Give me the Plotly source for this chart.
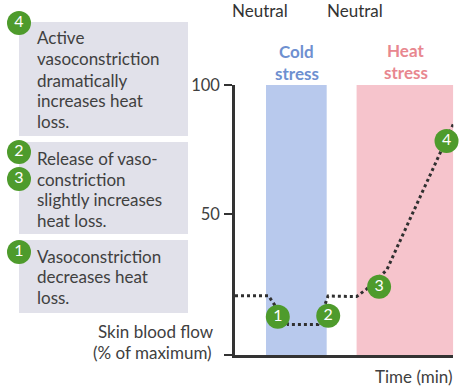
import plotly.graph_objects as go

# ---------------- data ----------------
time_pts = [0, 15.3, 24.3, 38.0, 42.6, 55.7, 60.3, 69.5, 100]
flow_pts = [18.3, 18.3, 7.2, 7.2, 18.2, 18.0, 20.9, 28.3, 84.8]

step_labels = ["1", "2", "3", "4"]
step_time = [19.6, 42.7, 66.0, 96.9]
step_flow = [10.2, 10.6, 21.8, 78.3]

cold_band = [14.2, 42.0]
heat_band = [55.7, 100]

y_ticks = [50, 100]
y_tick_text = ["50", "100"]

phase_labels = ["Neutral", "Neutral"]
cold_label = ["Cold", "stress"]
heat_label = ["Heat", "stress"]
y_title_lines = ["Skin blood flow", "(% of maximum)"]
x_title = "Time (min)"

box_texts = [
    ["Active", "vasoconstriction", "dramatically", "increases heat", "loss."],
    ["Release of vaso-", "constriction", "slightly increases", "heat loss."],
    ["Vasoconstriction", "decreases heat", "loss."],
]
box_badges = [["4"], ["2", "3"], ["1"]]

# ---------------- layout constants (pixels) ----------------
W, H = 461, 390
PL, PR, PT, PB = 235, 453.3, 85, 355
Y_TOP = 100
Y_BOT = -4.65

FONT = "Lato"
TXT = "#404040"
GREEN = "#4e9b2c"
FS = 17

fig = go.Figure()

# bands
fig.add_shape(type="rect", xref="x", yref="y", x0=cold_band[0], x1=cold_band[1],
              y0=Y_BOT, y1=Y_TOP, fillcolor="#b8c9ed", line_width=0, layer="below")
fig.add_shape(type="rect", xref="x", yref="y", x0=heat_band[0], x1=heat_band[1],
              y0=Y_BOT, y1=Y_TOP, fillcolor="#f6c4cc", line_width=0, layer="below")

# dotted curve
fig.add_trace(go.Scatter(x=time_pts, y=flow_pts, mode="lines",
                         line=dict(color="#303030", width=3, dash="3px,3px"),
                         hoverinfo="skip", showlegend=False, cliponaxis=False))
# numbered markers
fig.add_trace(go.Scatter(x=step_time, y=step_flow, mode="markers+text",
                         text=step_labels, textposition="middle center",
                         textfont=dict(color="white", size=16, family=FONT),
                         marker=dict(size=24, color=GREEN, line_width=0),
                         hoverinfo="skip", showlegend=False, cliponaxis=False))

# ------- overlay pixel axes for left panel -------
box_rects = [(19, 22, 188, 136), (19, 142, 188, 234), (19, 240, 188, 313)]
line_ys = [[37.3, 58.7, 80, 100.5, 121], [158.3, 179, 199.7, 220.7], [256, 276.7, 297.3]]
badge_ys = [[23], [152, 179], [252]]

for (x0, y0, x1, y1) in box_rects:
    fig.add_shape(type="rect", xref="x2", yref="y2", x0=x0, x1=x1, y0=y0, y1=y1,
                  fillcolor="#e1e1ea", line_width=0, layer="below")

bx, by, bt = [], [], []
for texts, ys in zip(box_texts, line_ys):
    for t, yy in zip(texts, ys):
        fig.add_annotation(x=35, y=yy, xref="x2", yref="y2", text=t, showarrow=False,
                           xanchor="left", yanchor="middle",
                           font=dict(family=FONT, size=FS, color=TXT))
for labs, ys in zip(box_badges, badge_ys):
    for l, yy in zip(labs, ys):
        bx.append(19)
        by.append(yy)
        bt.append(l)
fig.add_trace(go.Scatter(x=bx, y=by, xaxis="x2", yaxis="y2", mode="markers+text",
                         text=bt, textposition="middle center",
                         textfont=dict(color="white", size=16, family=FONT),
                         marker=dict(size=24, color=GREEN, line_width=0),
                         hoverinfo="skip", showlegend=False, cliponaxis=False))

# titles / labels
fig.add_annotation(x=216, y=331.7, xref="x2", yref="y2", text=y_title_lines[0],
                   showarrow=False, xanchor="right", yanchor="middle",
                   font=dict(family=FONT, size=FS, color=TXT))
fig.add_annotation(x=214, y=352.7, xref="x2", yref="y2", text=y_title_lines[1],
                   showarrow=False, xanchor="right", yanchor="middle",
                   font=dict(family=FONT, size=FS, color=TXT))
fig.add_annotation(x=455, y=376, xref="x2", yref="y2", text=x_title,
                   showarrow=False, xanchor="right", yanchor="middle",
                   font=dict(family=FONT, size=FS, color=TXT))
for xx, t in zip([260, 355], phase_labels):
    fig.add_annotation(x=xx, y=10, xref="x2", yref="y2", text=t, showarrow=False,
                       xanchor="center", yanchor="middle",
                       font=dict(family=FONT, size=FS, color="#333333"))
for xx, lines, col, ys in [(296.7, cold_label, "#6e90d0", [51.7, 73.3]),
                           (405.7, heat_label, "#e8878f", [50, 72])]:
    for t, yy in zip(lines, ys):
        fig.add_annotation(x=xx, y=yy, xref="x2", yref="y2", text="<b>" + t + "</b>",
                           showarrow=False, xanchor="center", yanchor="middle",
                           font=dict(family=FONT, size=FS, color=col))

fig.update_layout(
    width=W, height=H, autosize=False,
    margin=dict(l=0, r=0, t=0, b=0, pad=0),
    paper_bgcolor="white", plot_bgcolor="rgba(0,0,0,0)",
    xaxis=dict(domain=[PL / W, PR / W], range=[0, 100], showgrid=False, zeroline=False,
               showline=True, linecolor="#333333", linewidth=2.5, ticks="",
               showticklabels=False, anchor="y", fixedrange=True, automargin=False),
    yaxis=dict(domain=[(H - PB) / H, (H - PT) / H], range=[Y_BOT, Y_TOP], showgrid=False,
               zeroline=False, showline=True, linecolor="#333333", linewidth=2.5,
               ticks="outside", ticklen=8, tickwidth=2, tickcolor="#333333",
               tickvals=[Y_BOT] + y_ticks, ticktext=[""] + y_tick_text,
               tickfont=dict(family=FONT, size=16.5, color=TXT), ticklabelstandoff=1,
               anchor="x", fixedrange=True, automargin=False),
    xaxis2=dict(domain=[0, 1], range=[0, W], visible=False, anchor="y2",
                fixedrange=True, automargin=False),
    yaxis2=dict(domain=[0, 1], range=[H, 0], visible=False, anchor="x2",
                fixedrange=True, automargin=False),
    showlegend=False,
)

fig.write_html("out.html", config={"displayModeBar": False},
               post_script="document.body.style.margin='0';")
